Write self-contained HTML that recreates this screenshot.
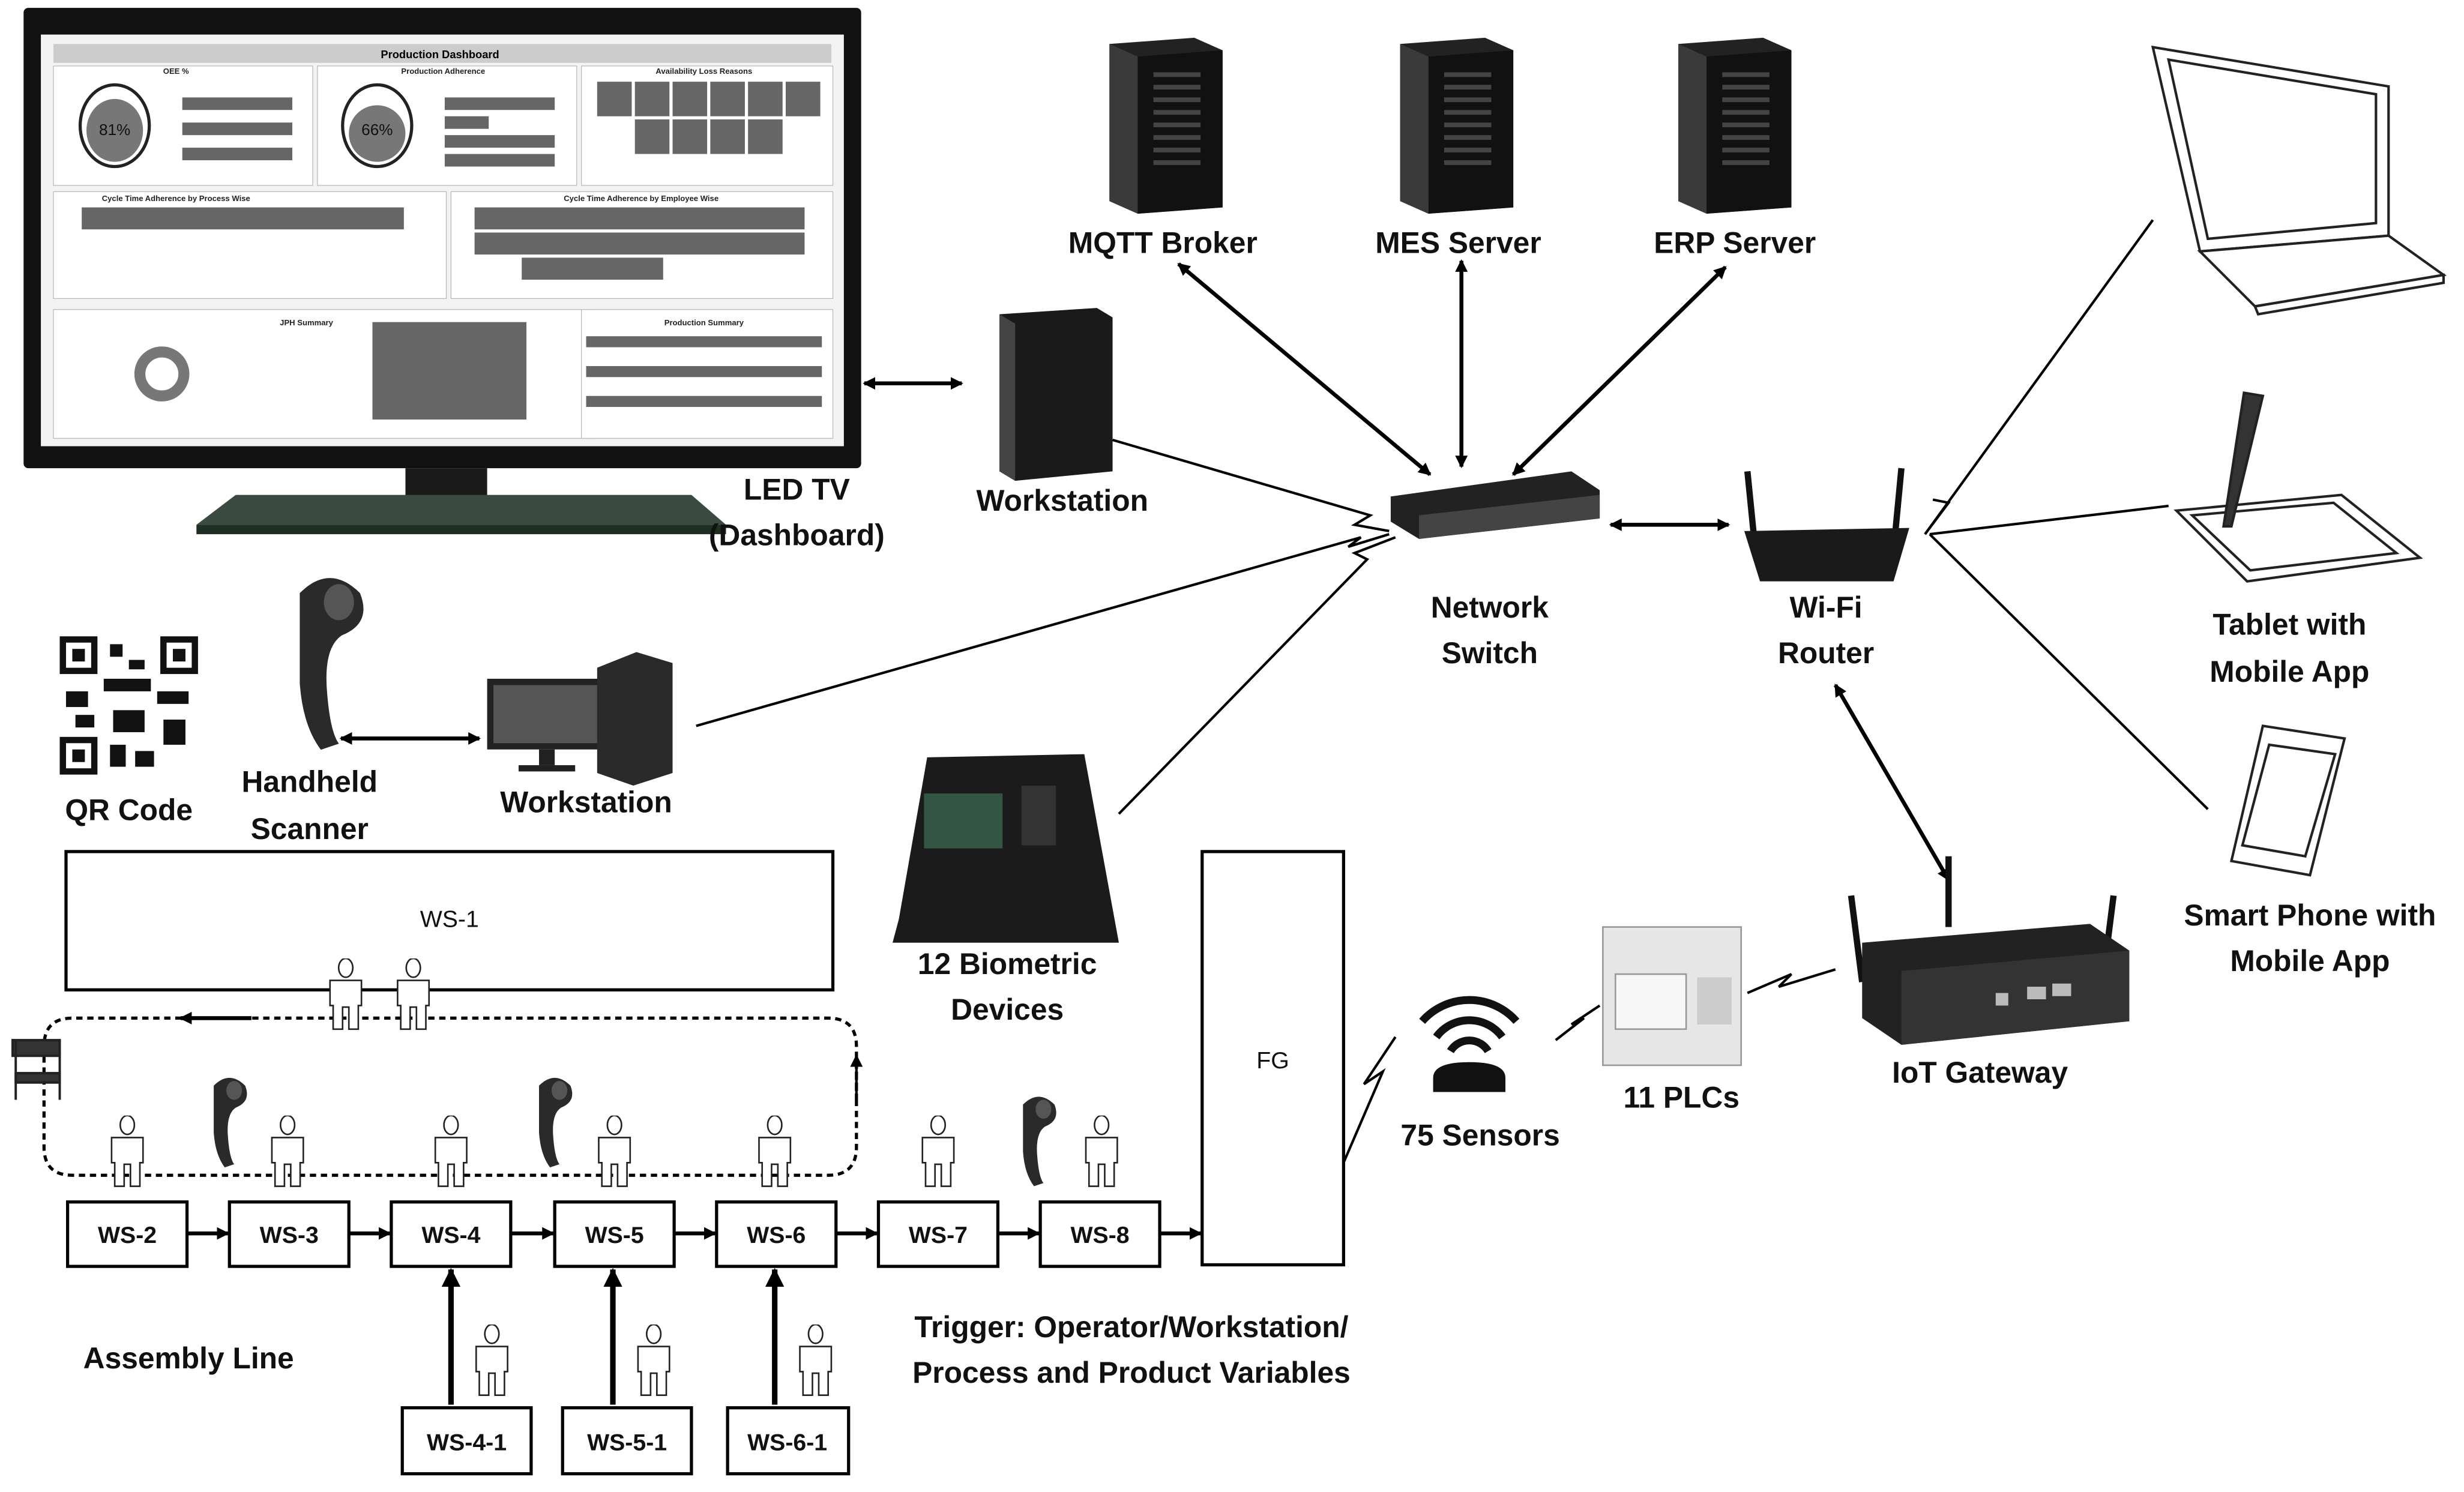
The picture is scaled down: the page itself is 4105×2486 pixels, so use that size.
<!DOCTYPE html>
<html><head><meta charset="utf-8"><style>
html,body{margin:0;padding:0;background:#fff;}
svg{display:block}
text{font-family:"Liberation Sans",sans-serif;}
.l{font-weight:bold;font-size:19px;text-anchor:middle;fill:#111}
.w{font-size:15px;text-anchor:middle;fill:#111;font-weight:bold}
.d{font-size:5px;fill:#222;text-anchor:middle;font-weight:bold}
</style></head><body>
<svg width="4105" height="2486" viewBox="0 0 1568 949.6" xmlns="http://www.w3.org/2000/svg">
<defs>
<marker id="ah" markerWidth="8" markerHeight="8" refX="7" refY="4" orient="auto-start-reverse" markerUnits="userSpaceOnUse" viewBox="0 0 8 8"><path d="M0,0 L8,4 L0,8 z" fill="#000"/></marker>
<marker id="ab" markerWidth="12" markerHeight="12" refX="11" refY="6" orient="auto-start-reverse" markerUnits="userSpaceOnUse" viewBox="0 0 12 12"><path d="M0,0 L12,6 L0,12 z" fill="#000"/></marker>
<symbol id="p" viewBox="0 0 24 46" width="24" height="46"><ellipse cx="12" cy="6" rx="4.5" ry="6" fill="#fff" stroke="#222" stroke-width="1"/><path d="M2,14 h20 v16 h-2 v15 h-6 v-14 h-4 v14 h-6 v-15 h-2 z" fill="#fff" stroke="#222" stroke-width="1"/></symbol>
<symbol id="s" viewBox="0 0 30 60" width="30" height="60"><path d="M6,6 q10,-10 20,0 q4,10 -6,14 q-6,4 -5,18 q1,14 4,18 l-6,2 q-6,-8 -7,-22 q0,-14 0,-22 z" fill="#2a2a2a"/><ellipse cx="19" cy="9" rx="5" ry="6" fill="#555"/></symbol>
<symbol id="srv" viewBox="0 0 80 112" width="80" height="112"><path d="M6,4 L60,0 L78,8 L78,108 L24,112 L6,104 z" fill="#222"/><path d="M24,12 L78,8 L78,108 L24,112 z" fill="#111"/><path d="M6,4 L24,12 L24,112 L6,104 z" fill="#3a3a3a"/><g fill="#444"><rect x="34" y="22" width="30" height="3"/><rect x="34" y="30" width="30" height="3"/><rect x="34" y="38" width="30" height="3"/><rect x="34" y="46" width="30" height="3"/><rect x="34" y="54" width="30" height="3"/><rect x="34" y="62" width="30" height="3"/><rect x="34" y="70" width="30" height="3"/><rect x="34" y="78" width="30" height="3"/></g></symbol>
</defs>
<rect width="1568" height="949.6" fill="#fff"/>

<!-- TV -->
<rect x="15" y="5" width="533" height="293" rx="3" fill="#111"/>
<rect x="26" y="22" width="511" height="262" fill="#f3f3f3"/>
<rect x="34" y="28" width="495" height="12" fill="#ccc"/>
<text x="280" y="37" font-size="7" font-weight="bold" text-anchor="middle">Production Dashboard</text>
<g fill="#fff" stroke="#bbb" stroke-width="0.5">
<rect x="34" y="42" width="165" height="76"/><rect x="202" y="42" width="165" height="76"/><rect x="370" y="42" width="160" height="76"/>
<rect x="34" y="122" width="250" height="68"/><rect x="287" y="122" width="243" height="68"/>
<rect x="34" y="197" width="345" height="82"/><rect x="370" y="197" width="160" height="82"/>
</g>
<ellipse cx="73" cy="80" rx="22" ry="26" fill="#fff" stroke="#222" stroke-width="2"/><ellipse cx="73" cy="83" rx="18" ry="20" fill="#777"/><text x="73" y="86" font-size="10" text-anchor="middle" fill="#111">81%</text>
<ellipse cx="240" cy="80" rx="22" ry="26" fill="#fff" stroke="#222" stroke-width="2"/><ellipse cx="240" cy="85" rx="18" ry="18" fill="#777"/><text x="240" y="86" font-size="10" text-anchor="middle" fill="#111">66%</text>
<g fill="#666"><rect x="116" y="62" width="70" height="8"/><rect x="116" y="78" width="70" height="8"/><rect x="116" y="94" width="70" height="8"/>
<rect x="283" y="62" width="70" height="8"/><rect x="283" y="74" width="28" height="8"/><rect x="283" y="86" width="70" height="8"/><rect x="283" y="98" width="70" height="8"/></g>
<g fill="#666"><rect x="380" y="52" width="22" height="22"/><rect x="404" y="52" width="22" height="22"/><rect x="428" y="52" width="22" height="22"/><rect x="452" y="52" width="22" height="22"/><rect x="476" y="52" width="22" height="22"/><rect x="500" y="52" width="22" height="22"/>
<rect x="404" y="76" width="22" height="22"/><rect x="428" y="76" width="22" height="22"/><rect x="452" y="76" width="22" height="22"/><rect x="476" y="76" width="22" height="22"/>
<rect x="52" y="132" width="205" height="14"/>
<rect x="302" y="132" width="210" height="14"/><rect x="302" y="148" width="210" height="14"/><rect x="332" y="164" width="90" height="14"/>
<rect x="237" y="205" width="98" height="62"/>
<rect x="373" y="214" width="150" height="7"/><rect x="373" y="233" width="150" height="7"/><rect x="373" y="252" width="150" height="7"/></g>
<text x="112" y="128" class="d">Cycle Time Adherence by Process Wise</text><text x="408" y="128" class="d">Cycle Time Adherence by Employee Wise</text>
<text x="112" y="47" class="d">OEE %</text><text x="282" y="47" class="d">Production Adherence</text><text x="448" y="47" class="d">Availability Loss Reasons</text>
<text x="195" y="207" class="d">JPH Summary</text><text x="448" y="207" class="d">Production Summary</text>
<circle cx="103" cy="238" r="14" fill="none" stroke="#777" stroke-width="7"/>
<rect x="258" y="298" width="52" height="18" fill="#1a1a1a"/>
<path d="M150,315 L440,315 L462,334 L125,334 z" fill="#3a4a40"/><rect x="125" y="334" width="337" height="6" fill="#1f2f22"/>
<text x="507" y="318" class="l">LED TV</text><text x="507" y="347" class="l">(Dashboard)</text>

<!-- workstation tower -->
<path d="M636,200 L698,196 L708,202 L708,300 L646,306 L636,300 z" fill="#1a1a1a"/><path d="M636,200 L646,206 L646,306 L636,300z" fill="#444"/>
<text x="676" y="325" class="l">Workstation</text>
<line x1="550" y1="244" x2="612" y2="244" stroke="#000" stroke-width="2.5" marker-start="url(#ah)" marker-end="url(#ah)"/>

<!-- servers -->
<use href="#srv" x="700" y="24"/><use href="#srv" x="885" y="24"/><use href="#srv" x="1062" y="24"/>
<text x="740" y="161" class="l">MQTT Broker</text><text x="928" y="161" class="l">MES Server</text><text x="1104" y="161" class="l">ERP Server</text>
<g stroke="#000" stroke-width="2.5" fill="none">
<line x1="750" y1="168" x2="910" y2="302" marker-start="url(#ah)" marker-end="url(#ah)"/>
<line x1="930" y1="166" x2="930" y2="297" marker-start="url(#ah)" marker-end="url(#ah)"/>
<line x1="1098" y1="170" x2="963" y2="302" marker-start="url(#ah)" marker-end="url(#ah)"/>
<line x1="1025" y1="334" x2="1100" y2="334" marker-start="url(#ah)" marker-end="url(#ah)"/>
<line x1="1168" y1="436" x2="1240" y2="560" marker-start="url(#ah)" marker-end="url(#ah)"/>
<line x1="217" y1="470" x2="305" y2="470" marker-start="url(#ah)" marker-end="url(#ah)"/>
</g>
<!-- switch -->
<path d="M885,316 L1000,300 L1018,312 L1018,330 L903,343 L885,332 z" fill="#222"/>
<path d="M903,328 L1018,315 L1018,330 L903,343z" fill="#444"/>
<text x="948" y="393" class="l">Network</text><text x="948" y="422" class="l">Switch</text>
<!-- router -->
<path d="M1112,300 L1116,340 M1210,298 L1206,340" stroke="#111" stroke-width="4"/>
<path d="M1110,338 L1215,336 L1205,370 L1120,370 z" fill="#1a1a1a"/>
<text x="1162" y="393" class="l">Wi-Fi</text><text x="1162" y="422" class="l">Router</text>

<!-- lightning lines -->
<g stroke="#000" stroke-width="1.6" fill="none">
<polyline points="708,280 872,328 862,334 884,338"/>
<polyline points="443,462 866,342 858,348 884,340"/>
<polyline points="712,518 870,356 862,352 888,342"/>
<polyline points="1225,340 1370,140"/>
<polyline points="1225,340 1240,320 1230,318"/>
<polyline points="1228,340 1380,322"/>
<polyline points="1228,340 1405,515"/>
<polyline points="855,740 880,682 868,690 888,660"/>
<polyline points="990,662 1008,648 1000,652 1018,640"/>
<polyline points="1112,632 1140,620 1132,628 1168,617"/>
</g>

<!-- laptop -->
<g stroke="#222" stroke-width="1.6" fill="#fff">
<path d="M1370,30 L1520,55 L1520,150 L1400,160 z"/>
<path d="M1380,38 L1512,60 L1512,142 L1405,152 z" fill="#fff"/>
<path d="M1400,160 L1520,150 L1555,175 L1435,195 z"/>
<path d="M1435,195 L1555,175 L1555,180 L1437,200 z"/>
</g>
<!-- tablet -->
<g stroke="#222" stroke-width="1.6" fill="#fff">
<path d="M1385,325 L1490,315 L1540,355 L1430,370 z"/><path d="M1395,328 L1485,320 L1525,352 L1432,363 z"/>
<path d="M1428,250 L1440,252 L1420,335 L1415,335 z" fill="#333"/>
</g>
<text x="1457" y="404" class="l">Tablet with</text><text x="1457" y="434" class="l">Mobile App</text>
<!-- phone -->
<g stroke="#222" stroke-width="1.6" fill="#fff"><path d="M1440,462 L1492,470 L1470,557 L1420,548 z"/><path d="M1444,474 L1486,480 L1467,545 L1427,538 z"/></g>
<text x="1470" y="589" class="l">Smart Phone with</text><text x="1470" y="618" class="l">Mobile App</text>

<!-- IoT gateway -->
<g stroke="#111" stroke-width="4"><line x1="1178" y1="570" x2="1185" y2="625"/><line x1="1345" y1="570" x2="1338" y2="625"/><line x1="1240" y1="545" x2="1240" y2="590"/></g>
<path d="M1185,600 L1330,588 L1355,605 L1355,650 L1210,665 L1185,648 z" fill="#222"/><path d="M1210,618 L1355,605 L1355,650 L1210,665 z" fill="#333"/>
<g fill="#bbb"><rect x="1290" y="628" width="12" height="8"/><rect x="1306" y="626" width="12" height="8"/><rect x="1270" y="632" width="8" height="8"/></g>
<text x="1260" y="689" class="l">IoT Gateway</text>
<!-- PLC -->
<rect x="1020" y="590" width="88" height="88" fill="#e6e6e6" stroke="#999"/><rect x="1028" y="620" width="45" height="35" fill="#f7f7f7" stroke="#999"/><rect x="1080" y="622" width="22" height="30" fill="#ccc"/>
<text x="1070" y="705" class="l">11 PLCs</text>
<!-- sensors -->
<g fill="none" stroke="#111" stroke-width="5"><path d="M905,650 a40,40 0 0 1 60,0"/><path d="M914,660 a26,26 0 0 1 42,0"/><path d="M923,669 a14,14 0 0 1 24,0"/></g>
<path d="M912,695 L912,686 Q912,676 935,676 Q958,676 958,686 L958,695 z" fill="#111"/>
<text x="942" y="729" class="l">75 Sensors</text>
<!-- biometric -->
<path d="M590,482 L690,480 L712,600 L568,600 L572,585 z" fill="#1b1b1b"/><rect x="588" y="505" width="50" height="35" fill="#354"/><rect x="650" y="500" width="22" height="38" fill="#333"/>
<text x="641" y="620" class="l">12 Biometric</text><text x="641" y="649" class="l">Devices</text>

<!-- QR -->
<rect x="38" y="405" width="88" height="88" fill="#fff"/>
<g fill="#111"><rect x="38" y="405" width="24" height="24"/><rect x="102" y="405" width="24" height="24"/><rect x="38" y="469" width="24" height="24"/>
<rect x="70" y="410" width="8" height="8"/><rect x="82" y="420" width="10" height="6"/><rect x="66" y="432" width="30" height="8"/><rect x="42" y="440" width="14" height="10"/><rect x="100" y="440" width="20" height="8"/><rect x="72" y="452" width="20" height="14"/><rect x="104" y="458" width="14" height="16"/><rect x="70" y="474" width="10" height="14"/><rect x="86" y="478" width="12" height="10"/><rect x="48" y="455" width="12" height="8"/></g>
<g fill="#fff"><rect x="42" y="409" width="16" height="16"/><rect x="106" y="409" width="16" height="16"/><rect x="42" y="473" width="16" height="16"/></g>
<g fill="#111"><rect x="46" y="413" width="8" height="8"/><rect x="110" y="413" width="8" height="8"/><rect x="46" y="477" width="8" height="8"/></g>
<text x="82" y="522" class="l">QR Code</text>
<!-- scanner -->
<use href="#s" x="168" y="366" width="80" height="115"/>
<text x="197" y="504" class="l">Handheld</text><text x="197" y="534" class="l">Scanner</text>
<!-- desktop -->
<rect x="310" y="432" width="75" height="45" fill="#222"/><rect x="314" y="436" width="67" height="37" fill="#555"/>
<rect x="343" y="477" width="10" height="10" fill="#222"/><rect x="330" y="487" width="36" height="4" fill="#222"/>
<path d="M380,425 L405,415 L428,422 L428,492 L403,500 L380,492 z" fill="#2a2a2a"/>
<text x="373" y="517" class="l">Workstation</text>

<!-- assembly line -->
<rect x="42" y="542" width="488" height="88" fill="#fff" stroke="#000" stroke-width="2"/>
<text x="286" y="590" class="w" font-weight="normal" style="font-weight:normal">WS-1</text>
<rect x="765" y="542" width="90" height="263" fill="#fff" stroke="#000" stroke-width="2"/>
<text x="810" y="680" class="w" style="font-weight:normal">FG</text>
<path d="M545,700 L545,670 M545,700 L545,730 Q545,748 527,748 L46,748 Q28,748 28,730 L28,666 Q28,648 46,648 L527,648 Q545,648 545,666 L545,700" fill="none" stroke="#000" stroke-width="2" stroke-dasharray="4,3"/>
<line x1="545" y1="700" x2="545" y2="672" stroke="#000" stroke-width="1.6" marker-end="url(#ah)"/>
<line x1="160" y1="648" x2="115" y2="648" stroke="#000" stroke-width="2.5" marker-end="url(#ah)"/>
<use href="#p" x="208" y="610"/><use href="#p" x="251" y="610"/>
<use href="#p" x="69" y="710"/><use href="#p" x="171" y="710"/><use href="#p" x="275" y="710"/><use href="#p" x="379" y="710"/><use href="#p" x="481" y="710"/><use href="#p" x="585" y="710"/><use href="#p" x="689" y="710"/>
<use href="#s" x="130" y="685" width="30" height="60"/><use href="#s" x="337" y="685" width="30" height="60"/><use href="#s" x="645" y="697" width="30" height="60"/>
<!-- cart -->
<g stroke="#222" stroke-width="1.5" fill="#333"><rect x="8" y="662" width="30" height="10"/><rect x="10" y="683" width="28" height="6"/><line x1="10" y1="662" x2="10" y2="700" /><line x1="38" y1="662" x2="38" y2="700"/></g>

<g fill="#fff" stroke="#000" stroke-width="2">
<rect x="43" y="765" width="76" height="41"/><rect x="146" y="765" width="76" height="41"/><rect x="249" y="765" width="76" height="41"/><rect x="353" y="765" width="76" height="41"/><rect x="456" y="765" width="76" height="41"/><rect x="559" y="765" width="76" height="41"/><rect x="662" y="765" width="76" height="41"/>
<rect x="256" y="896" width="82" height="42"/><rect x="358" y="896" width="82" height="42"/><rect x="463" y="896" width="77" height="42"/>
</g>
<g><text x="81" y="791" class="w">WS-2</text><text x="184" y="791" class="w">WS-3</text><text x="287" y="791" class="w">WS-4</text><text x="391" y="791" class="w">WS-5</text><text x="494" y="791" class="w">WS-6</text><text x="597" y="791" class="w">WS-7</text><text x="700" y="791" class="w">WS-8</text>
<text x="297" y="923" class="w">WS-4-1</text><text x="399" y="923" class="w">WS-5-1</text><text x="501" y="923" class="w">WS-6-1</text></g>
<g stroke="#000" stroke-width="2.5">
<line x1="119" y1="785" x2="145" y2="785" marker-end="url(#ah)"/><line x1="222" y1="785" x2="248" y2="785" marker-end="url(#ah)"/><line x1="325" y1="785" x2="352" y2="785" marker-end="url(#ah)"/><line x1="429" y1="785" x2="455" y2="785" marker-end="url(#ah)"/><line x1="532" y1="785" x2="558" y2="785" marker-end="url(#ah)"/><line x1="635" y1="785" x2="661" y2="785" marker-end="url(#ah)"/><line x1="738" y1="785" x2="764" y2="785" marker-end="url(#ah)"/>
<line x1="287" y1="894" x2="287" y2="808" stroke-width="3.5" marker-end="url(#ab)"/><line x1="390" y1="894" x2="390" y2="808" stroke-width="3.5" marker-end="url(#ab)"/><line x1="493" y1="894" x2="493" y2="808" stroke-width="3.5" marker-end="url(#ab)"/>
</g>
<use href="#p" x="301" y="843"/><use href="#p" x="404" y="843"/><use href="#p" x="507" y="843"/>
<text x="120" y="871" class="l">Assembly Line</text>
<text x="720" y="851" class="l">Trigger: Operator/Workstation/</text>
<text x="720" y="880" class="l">Process and Product Variables</text>
</svg>
</body></html>
